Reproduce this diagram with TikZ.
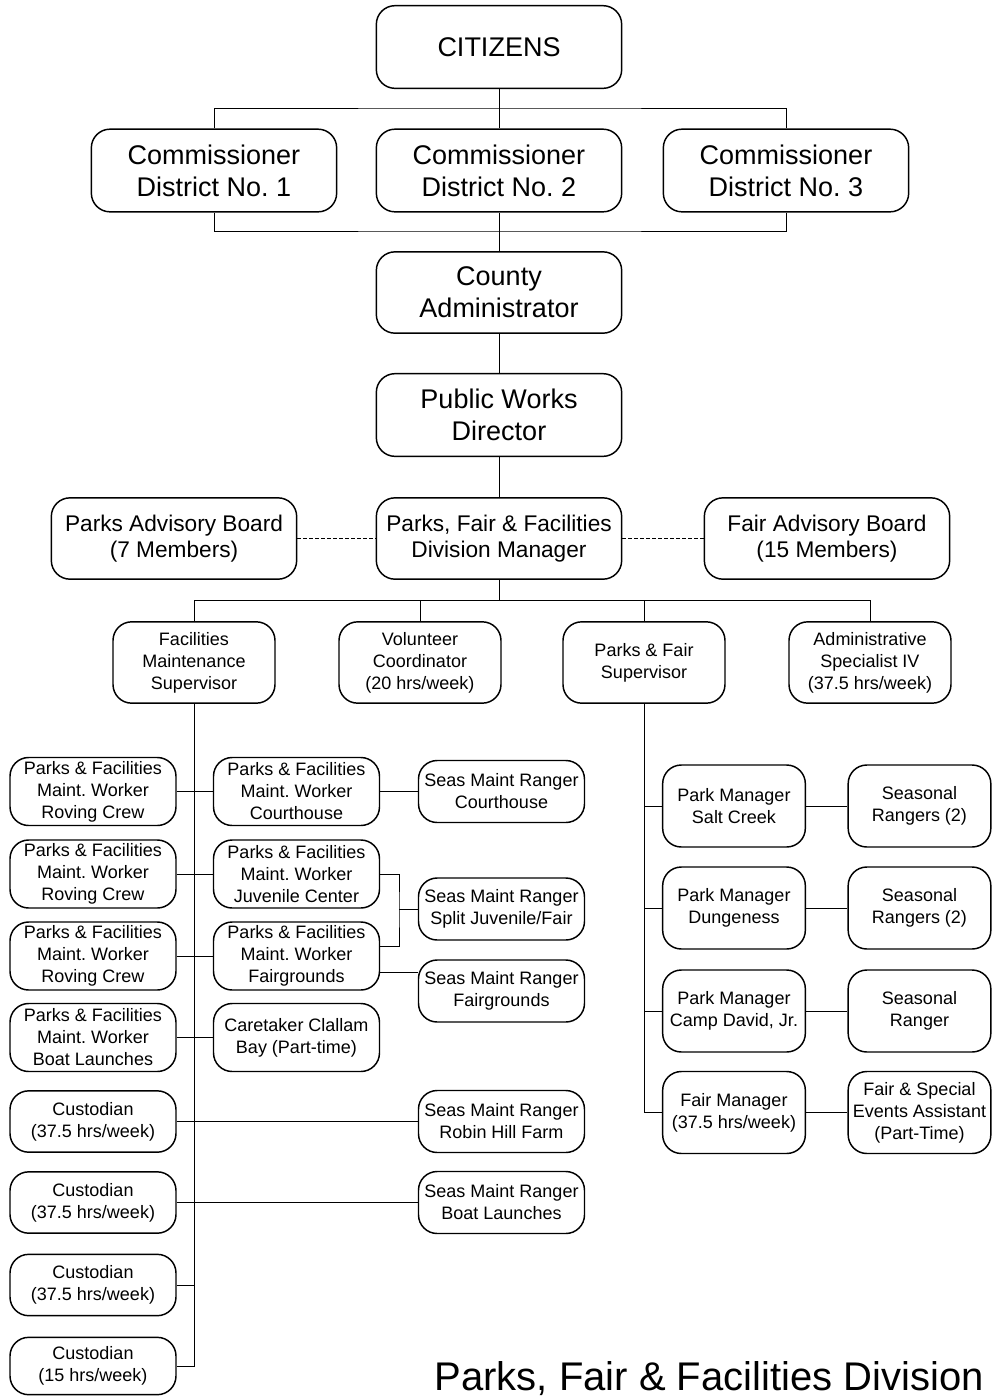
\documentclass[tikz,border=0pt]{standalone}
\usepackage{fontspec}
\setmainfont{Liberation Sans}
\usepackage{tikz}
\frenchspacing

\begin{document}
\begin{tikzpicture}[x=0.75pt, y=-0.75pt,
    box/.style={draw, rounded corners=14pt, line width=1.1pt, align=center, inner sep=1pt},
    bigbox/.style={box, minimum width=184pt, minimum height=62pt, font=\fontsize{20.25}{24}\selectfont},
    midbox/.style={box, minimum width=184pt, minimum height=61pt, font=\fontsize{17}{19.5}\selectfont},
    smallbox/.style={box, minimum width=121.5pt, minimum height=61pt, font=\fontsize{13.5}{16.5}\selectfont},
    lowbox/.style={box, minimum width=124.5pt, minimum height=51pt, font=\fontsize{13.5}{16.5}\selectfont},
    parkbox/.style={box, minimum width=107pt, minimum height=61.5pt, font=\fontsize{13.5}{16.5}\selectfont},
    link/.style={line width=0.7pt}]

    \useasboundingbox (0, 0) rectangle (992, 1397);

    % Level 1: citizens and commissioners
    \node[bigbox] (cit) at (499, 47) {CITIZENS};
    \node[bigbox] (com1) at (214, 170.5) {Commissioner\\District No. 1};
    \node[bigbox] (com2) at (499, 170.5) {Commissioner\\District No. 2};
    \node[bigbox] (com3) at (786, 170.5) {Commissioner\\District No. 3};
    \coordinate (topbus) at (499, 108);   % bus above the commissioners
    \coordinate (botbus) at (499, 231);   % bus below the commissioners

    \draw[link] (cit.south) -- (com2.north);
    \draw[link] (com1.north) |- (topbus) -| (com3.north);
    \draw[link] (com1.south) |- (botbus) -| (com3.south);

    % Level 2: administrator and director
    \node[bigbox, minimum height=61pt] (ca) at (499, 292.5) {County\\Administrator};
    \node[bigbox] (pw) at (499, 415) {Public Works\\Director};

    \draw[link] (com2.south) -- (ca.north);
    \draw[link] (ca.south) -- (pw.north);

    % Level 3: division manager and advisory boards
    \node[midbox] (pab) at (174, 538.5) {Parks Advisory Board\\(7 Members)};
    \node[midbox] (dm) at (499, 538.5) {Parks, Fair \& Facilities\\Division Manager};
    \node[midbox] (fab) at (827, 538.5) {Fair Advisory Board\\(15 Members)};
    \coordinate (midbus) at (499, 600);   % bus above the supervisors

    \draw[link] (pw.south) -- (dm.north);
    \draw[link, dash pattern=on 3pt off 1.5pt] (pab.east) -- (dm.west);
    \draw[link, dash pattern=on 3pt off 1.5pt] (dm.east) -- (fab.west);

    % Level 4: supervisors and staff
    \node[smallbox] (fms) at (194, 662.5) {Facilities\\Maintenance\\Supervisor};
    \node[smallbox] (vc) at (420, 662.5) {Volunteer\\Coordinator\\(20 hrs/week)};
    \node[smallbox] (pfs) at (644, 662.5) {Parks \& Fair\\Supervisor};
    \node[smallbox] (asv) at (870, 662.5) {Administrative\\Specialist IV\\(37.5 hrs/week)};

    \draw[link] (dm.south) -- (midbus);
    \draw[link] (fms.north) |- (midbus) -| (asv.north);
    \draw[link] (vc.north) |- (midbus);
    \draw[link] (pfs.north) |- (midbus);

    % Facilities side: left column
    \node[lowbox] (rc1) at (93, 791.5) {Parks \& Facilities\\Maint. Worker\\Roving Crew};
    \node[lowbox] (rc2) at (93, 874) {Parks \& Facilities\\Maint. Worker\\Roving Crew};
    \node[lowbox] (rc3) at (93, 956) {Parks \& Facilities\\Maint. Worker\\Roving Crew};
    \node[lowbox] (bl) at (93, 1037.5) {Parks \& Facilities\\Maint. Worker\\Boat Launches};
    \node[lowbox, minimum height=46pt] (cu1) at (93, 1121.5) {Custodian\\(37.5 hrs/week)};
    \node[lowbox, minimum height=46pt] (cu2) at (93, 1202.5) {Custodian\\(37.5 hrs/week)};
    \node[lowbox, minimum height=46pt] (cu3) at (93, 1285) {Custodian\\(37.5 hrs/week)};
    \node[lowbox, minimum height=43pt] (cu4) at (93, 1366) {Custodian\\(15 hrs/week)};

    % Facilities side: middle column
    \node[lowbox] (cw) at (296.5, 791.5) {Parks \& Facilities\\Maint. Worker\\Courthouse};
    \node[lowbox] (jw) at (296.5, 874) {Parks \& Facilities\\Maint. Worker\\Juvenile Center};
    \node[lowbox] (fw) at (296.5, 956) {Parks \& Facilities\\Maint. Worker\\Fairgrounds};
    \node[lowbox] (ct) at (296.5, 1037.5) {Caretaker Clallam\\Bay (Part-time)};

    % Facilities side: seasonal rangers
    \node[lowbox, minimum height=46.5pt] (rcth) at (501.5, 791.5) {Seas Maint Ranger\\Courthouse};
    \node[lowbox, minimum height=46.5pt] (rsplit) at (501.5, 909) {Seas Maint Ranger\\Split Juvenile/Fair};
    \node[lowbox, minimum height=46.5pt] (rfair) at (501.5, 991) {Seas Maint Ranger\\Fairgrounds};
    \node[lowbox, minimum height=46.5pt] (robin) at (501.5, 1121.5) {Seas Maint Ranger\\Robin Hill Farm};
    \node[lowbox, minimum height=46.5pt] (rboat) at (501.5, 1202.5) {Seas Maint Ranger\\Boat Launches};

    \coordinate (split) at (399, 909);    % joint of juvenile and fair
    \coordinate (fwup) at ([yshift=7pt]fw.east);
    \coordinate (fwlow) at ([yshift=-12.5pt]fw.east);

    \draw[link] (fms.south) |- (cu4.east);
    \draw[link] (rc1.east) -- (cw.west);
    \draw[link] (rc2.east) -- (jw.west);
    \draw[link] (rc3.east) -- (fw.west);
    \draw[link] (bl.east) -- (ct.west);
    \draw[link] (cu1.east) -- (robin.west);
    \draw[link] (cu2.east) -- (rboat.west);
    \draw[link] (cu3.east) -- (cu3.east -| fms.south);
    \draw[link] (cw.east) -- (rcth.west);
    \draw[link] (jw.east) -| (split) |- (fwup);
    \draw[link] (split) -- (rsplit.west);
    \draw[link] (fwlow) -- (fwlow -| rfair.west);

    % Parks and fair side
    \node[parkbox] (pm1) at (734, 806) {Park Manager\\Salt Creek};
    \node[parkbox] (pm2) at (734, 908) {Park Manager\\Dungeness};
    \node[parkbox] (pm3) at (734, 1011) {Park Manager\\Camp David, Jr.};
    \node[parkbox] (fm) at (734, 1112.5) {Fair Manager\\(37.5 hrs/week)};
    \node[parkbox] (sr1) at (919.5, 806) {Seasonal\\Rangers (2)};
    \node[parkbox] (sr2) at (919.5, 908) {Seasonal\\Rangers (2)};
    \node[parkbox] (sr3) at (919.5, 1011) {Seasonal\\Ranger};
    \node[parkbox] (fsa) at (919.5, 1112.5) {Fair \& Special\\Events Assistant\\(Part-Time)};

    \draw[link] (pfs.south) |- (pm1.west);
    \draw[link] (pfs.south) |- (pm2.west);
    \draw[link] (pfs.south) |- (pm3.west);
    \draw[link] (pfs.south) |- (fm.west);
    \draw[link] (pm1.east) -- (sr1.west);
    \draw[link] (pm2.east) -- (sr2.west);
    \draw[link] (pm3.east) -- (sr3.west);
    \draw[link] (fm.east) -- (fsa.west);

    % Title
    \node[anchor=base east, inner sep=0pt, font=\fontsize{30}{36}\selectfont] (title) at (984, 1390) {Parks, Fair \& Facilities Division};

\end{tikzpicture}
\end{document}
